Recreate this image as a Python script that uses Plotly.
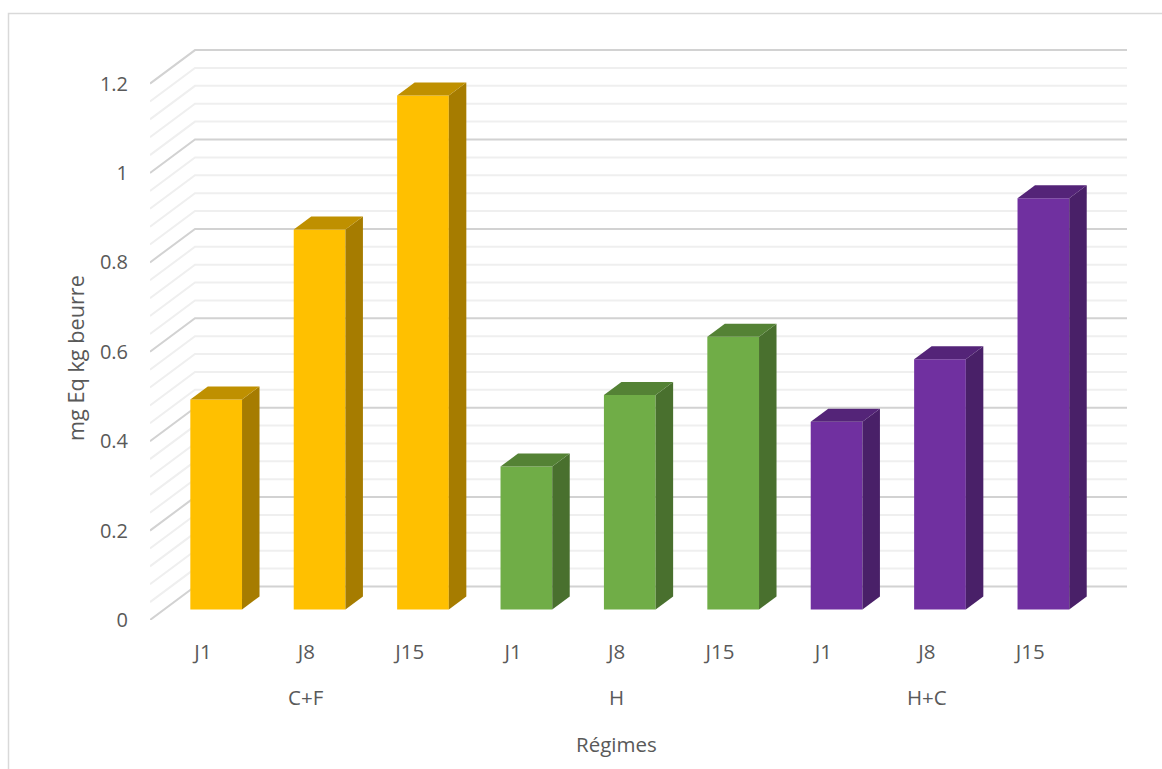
import plotly.graph_objects as go

# Chart data
groups = ["C+F", "H", "H+C"]
days = ["J1", "J8", "J15"]
values_cf = [0.47, 0.85, 1.15]
values_h = [0.32, 0.48, 0.61]
values_hc = [0.42, 0.56, 0.92]
y_ticks = [0, 0.2, 0.4, 0.6, 0.8, 1, 1.2]
y_tick_text = ["0", "0.2", "0.4", "0.6", "0.8", "1", "1.2"]
y_title = "mg Eq kg beurre"
x_title = "Régimes"

# Face colours per group: front, side, top
palette = [
    ("#FFC000", "#A67C00", "#BF9000"),
    ("#70AD47", "#49702E", "#548235"),
    ("#7030A0", "#492068", "#542478"),
]
series = [values_cf, values_h, values_hc]

# Canvas layout and pseudo-3D projection
W, H = 1162, 769
M_L, M_B = 150, 149
PX_X = 103.4           # pixels per category slot
PX_Y = 447.0           # pixels per value unit
X_MIN = -0.64
X_MAX = X_MIN + (W - M_L) / PX_X
Y_MAX = (H - M_B) / PX_Y

WALL_DX, WALL_DY = 45 / PX_X, 33.5 / PX_Y       # depth of the floor
BAR_DX, BAR_DY = 17.5 / PX_X, 13 / PX_Y         # depth of one bar
LIFT_DX, LIFT_DY = 13.2 / PX_X, 10.5 / PX_Y     # bar row set back from the front edge
BAR_W = 0.5
WALL_RIGHT = X_MIN + (1127 - M_L) / PX_X

fig = go.Figure()

# Wall and side-wall gridlines sit beneath every bar
shapes = []
for k in range(31):
    v = k * 0.04
    major = k % 5 == 0
    shapes.append(dict(
        type="path", layer="below", xref="x", yref="y",
        path=(f"M {X_MIN},{v} L {X_MIN + WALL_DX},{v + WALL_DY} "
              f"L {WALL_RIGHT},{v + WALL_DY}"),
        line=dict(color="#D2D2D2" if major else "#EFEFEF", width=2),
    ))

# Chart-area frame: only its left and top edges fall on the canvas
shapes.append(dict(
    type="rect", layer="below", xref="paper", yref="paper",
    x0=(8.5 - M_L) / (W - M_L), x1=(W + 10 - M_L) / (W - M_L),
    y0=-0.5, y1=1 + (0 - 13.5) / (H - M_B),
    line=dict(color="#D9D9D9", width=1.5),
))

idx = 0
for vals, (front, side, top) in zip(series, palette):
    xs = list(range(idx, idx + len(vals)))
    fig.add_trace(go.Bar(
        x=xs, y=vals, base=[LIFT_DY] * len(vals), width=BAR_W,
        marker=dict(color=front, line=dict(width=0)),
        hoverinfo="skip",
    ))
    for x, v in zip(xs, vals):
        left, right = x - BAR_W / 2, x + BAR_W / 2
        y0, y1 = LIFT_DY, LIFT_DY + v
        # Right-hand side of the bar
        fig.add_trace(go.Scatter(
            x=[right, right + BAR_DX, right + BAR_DX, right, right],
            y=[y0, y0 + BAR_DY, y1 + BAR_DY, y1, y0],
            mode="lines", fill="toself", fillcolor=side,
            line=dict(width=0, color=side), hoverinfo="skip",
        ))
        # Top of the bar
        fig.add_trace(go.Scatter(
            x=[left, left + BAR_DX, right + BAR_DX, right, left],
            y=[y1, y1 + BAR_DY, y1 + BAR_DY, y1, y1],
            mode="lines", fill="toself", fillcolor=top,
            line=dict(width=0, color=top), hoverinfo="skip",
        ))
    idx += len(vals)

TEXT = dict(family="Open Sans", size=20.5, color="#595959")
n_days = len(days)
group_centres = [g * n_days + (n_days - 1) / 2 - LIFT_DX for g in range(len(groups))]

annotations = [
    dict(x=c, y=0, xref="x", yref="paper", yshift=-77, text=g, yanchor="middle",
         xanchor="center", showarrow=False, font=TEXT)
    for c, g in zip(group_centres, groups)
]
annotations.append(dict(
    x=group_centres[1], y=0, xref="x", yref="paper", yshift=-124,
    text=x_title, yanchor="middle", xanchor="center", showarrow=False, font=TEXT,
))
annotations.append(dict(
    x=(75 - M_L) / (W - M_L), xref="paper", y=0.586, yref="y",
    text=y_title, textangle=-90, showarrow=False,
    xanchor="center", yanchor="middle",
    font=dict(family="Open Sans", size=21.7, color="#595959"),
))

fig.update_layout(
    width=W, height=H,
    margin=dict(l=M_L, r=0, t=0, b=M_B, autoexpand=False),
    paper_bgcolor="white", plot_bgcolor="white",
    showlegend=False,
    barmode="overlay",
    font=TEXT,
    shapes=shapes,
    annotations=annotations,
    xaxis=dict(
        range=[X_MIN, X_MAX],
        tickmode="array",
        tickvals=[i - LIFT_DX for i in range(len(groups) * n_days)],
        ticktext=days * len(groups),
        ticks="", showgrid=False, zeroline=False, showline=False,
        ticklabelstandoff=17,
        tickfont=TEXT,
    ),
    yaxis=dict(
        range=[0, Y_MAX],
        tickmode="array",
        tickvals=y_ticks,
        ticktext=y_tick_text,
        ticks="", showgrid=False, zeroline=False, showline=False,
        ticklabelstandoff=21,
        tickfont=dict(family="Open Sans", size=20, color="#595959"),
    ),
)

fig.write_html("out.html")
